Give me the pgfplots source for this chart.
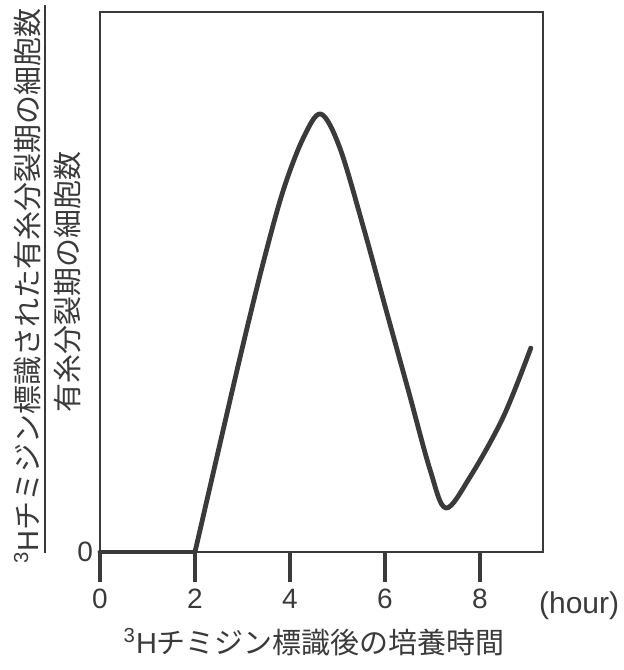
\documentclass[border=0pt]{standalone}
\usepackage{fontspec}
\setmainfont{Liberation Sans}
\newfontfamily\jp{Noto Sans CJK JP}
\usepackage{pgfplots}
\pgfplotsset{compat=1.18}
\definecolor{ink}{HTML}{3A3A3A}
\newcommand\tH{{\normalfont\textsuperscript{3}H}}
\begin{document}
\begin{tikzpicture}
\begin{axis}[
  scale only axis,
  width=221.35pt, height=270pt,
  xmin=0, xmax=9.32, ymin=0, ymax=540,
  axis line style={draw=ink, line width=1pt},
  xtick={0,2,4,6,8},
  xtick pos=bottom,
  xtick align=outside,
  major tick length=15pt,
  xtick style={line width=2pt, draw=ink},
  ytick={0},
  ytick pos=left,
  ytick align=inside,
  ytick style={draw=none},
  tick label style={font=\fontsize{14}{16}\selectfont, text=ink},
  /pgf/number format/assume math mode=true,
  clip=false,
]
\addplot[ink, line width=2.4pt, line cap=round] coordinates {(0,0) (2,0)};
\addplot[ink, line width=2.4pt, line cap=round, line join=round, smooth, tension=0.55] coordinates {
  (2,0) (2.5,103) (3.0,205) (3.44,290) (3.86,362) (4.28,414) (4.65,438)
  (5.05,404) (5.55,324) (6.0,246) (6.5,160) (6.95,82)
  (7.28,44) (7.79,75) (8.49,135) (9.07,204)
};
\node[rotate=90, font=\jp\fontsize{14.5}{16}\selectfont, text=ink, anchor=center]
  at ([xshift=-36.25pt]rel axis cs:0,0.4926) {\tH チミジン標識された有糸分裂期の細胞数};
\draw[ink, line width=1pt] ([xshift=-27.5pt, yshift=-0.5pt]rel axis cs:0,0) -- ([xshift=-27.5pt, yshift=3.5pt]rel axis cs:0,1);
\node[rotate=90, font=\jp\fontsize{14.5}{16}\selectfont, text=ink, anchor=center]
  at ([xshift=-16.5pt]rel axis cs:0,0.5) {有糸分裂期の細胞数};
\node[font=\jp\fontsize{14.5}{16}\selectfont, text=ink]
  at ([xshift=-3.5pt, yshift=-45pt]rel axis cs:0.5,0) {\tH チミジン標識後の培養時間};
\node[anchor=base west, font=\fontsize{15}{16}\selectfont, text=ink, inner sep=0pt]
  at ([xshift=-2pt, yshift=-30.5pt]rel axis cs:1,0) {(hour)};
\path ([xshift=-50pt, yshift=-59pt]rel axis cs:0,0) rectangle ([xshift=40.15pt, yshift=6pt]rel axis cs:1,1);
\end{axis}
\end{tikzpicture}
\end{document}
